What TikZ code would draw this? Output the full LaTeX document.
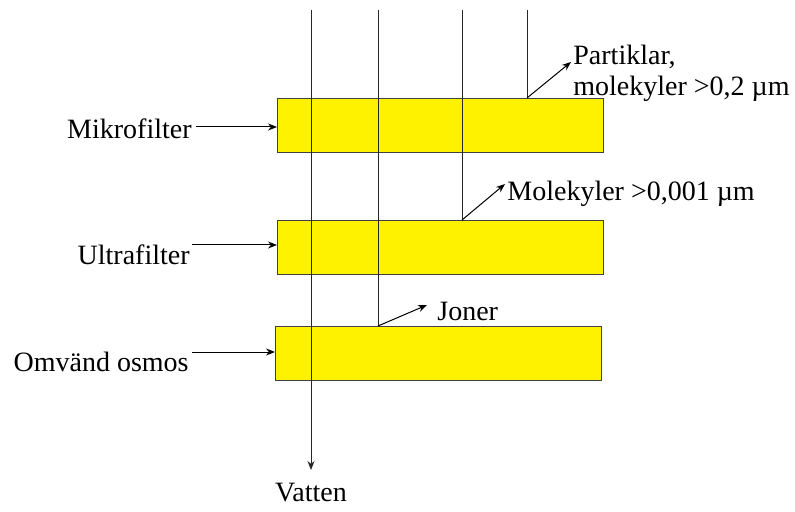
\documentclass[tikz,border=0pt]{standalone}
\usepackage{fontspec}
\setmainfont{Liberation Serif}
\usetikzlibrary{arrows.meta,positioning}

\begin{document}
\begin{tikzpicture}[
  x=0.5pt, y=-0.5pt,
  font=\fontsize{14}{15.5}\selectfont,
  filt/.style={draw=black!75, line width=0.5pt, fill=yellow, minimum width=163pt, minimum height=27pt, inner sep=0pt, anchor=north west},
  lbl/.style={inner sep=0pt, align=left},
  flow/.style={draw=black!85, line width=0.5pt},
  ar/.style={-{Stealth[length=4.5pt,width=3.5pt]}, line width=0.5pt},
]
\useasboundingbox (0,0) rectangle (795,512);
% filters
\node[filt] (mf) at (277,98) {};
\node[filt] (uf) at (277,220) {};
\node[filt] (ro) at (275,326) {};
% flow lines
\coordinate (t1) at (311,10);
\coordinate (t2) at (378,10);
\coordinate (t3) at (462,10);
\coordinate (t4) at (527,10);
\coordinate (ut) at (311,470);
\draw[flow,ar] (t1) -- (ut);
\draw[flow] (t2) -- (t2 |- ro.north);
\draw[flow] (t3) -- (t3 |- uf.north);
\draw[flow] (t4) -- (t4 |- mf.north);
% retained
\coordinate (p1) at (571,62);
\coordinate (p2) at (505,184);
\coordinate (p3) at (427,305);
\node[lbl, anchor=west] (partiklar) at (573,73) {Partiklar,\\molekyler >0,2 µm};
\node[lbl, anchor=west] (molekyler) at (507,194) {Molekyler >0,001 µm};
\node[lbl, anchor=west] (joner) at (437,311) {Joner};
\draw[ar] (t4 |- mf.north) -- (p1);
\draw[ar] (t3 |- uf.north) -- (p2);
\draw[ar] (t2 |- ro.north) -- (p3);
% names
\node[lbl, anchor=east] (lmf) at (192,129) {Mikrofilter};
\node[lbl, anchor=east] (luf) at (190,255) {Ultrafilter};
\node[lbl, anchor=east] (lro) at (189,362) {Omvänd osmos};
\draw[ar] ([yshift=1pt,xshift=2pt]lmf.east) -- ([yshift=1pt]lmf.east -| mf.west);
\draw[ar] ([yshift=5pt,xshift=1pt]luf.east) -- ([yshift=5pt]luf.east -| uf.west);
\draw[ar] ([yshift=5pt,xshift=1.5pt]lro.east) -- ([yshift=5pt]lro.east -| ro.west);
\node[lbl] (vatten) at (311,493) {Vatten};
\end{tikzpicture}
\end{document}
